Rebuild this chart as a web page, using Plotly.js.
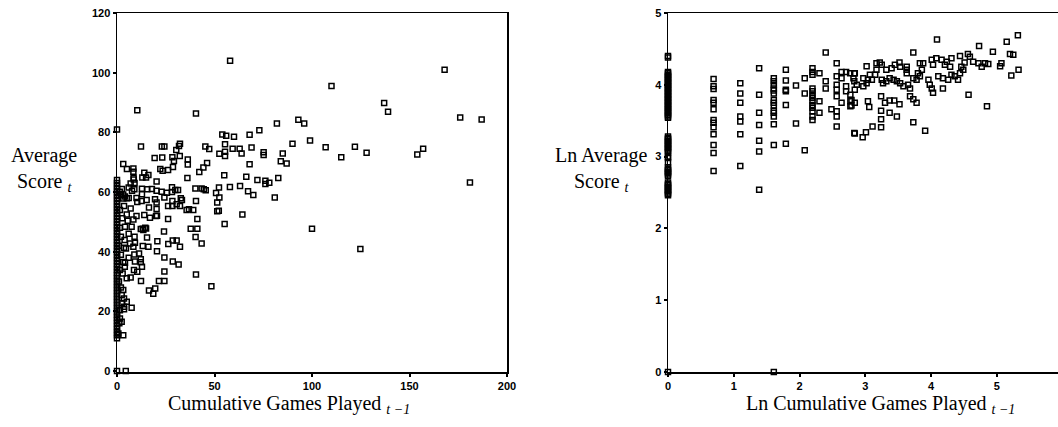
<!DOCTYPE html>
<html>
<head>
<meta charset="utf-8">
<script src="https://cdn.plot.ly/plotly-3.0.1.min.js"></script>
<style>html,body{margin:0;padding:0;background:#fff}#chart{width:1058px;height:427px}</style>
</head>
<body>
<div id="chart"></div>
<script>
// Left panel: cumulative games played (t-1) vs average score (t)
const leftGames = [
58,168,110,137,139,176,187,10.4,40.5,82,93,96,73,68,54,56,60,99,90,107,122,115,128,154,157,181,
12.3,23,24.3,32.3,31.8,30.4,45.3,47.3,55.4,55.4,52.5,55.4,59.3,62.9,63.9,69,75.2,75.2,85,84,87,68,
19.3,23.2,28.4,29.2,32.2,36.3,36.3,46.2,44.3,42.2,3.2,5.1,8.4,8.4,8.5,8.6,14,16.1,13,14.9,20.3,36.1,22.2,23.4,26.2,28.7,55,66.3,72,76.1,76.1,78.1,82.7,57.9,63.1,67.2,69.9,80.9,40.2,44.5,43.4,45.5,52.3,50.8,52.5,51.4,52.2,51.4,40.5,41.2,37.8,41.2,36.9,39.1,35.7,55.2,64.3,33.3,32.3,30.6,28.4,28.4,29.9,31.3,32.7,28.2,28.2,25.6,24.3,20.3,22.9,19.5,20.3,20.3,20,26.2,26.2,17.9,15.5,12.8,12.8,15.2,16.4,12.6,10.4,14,14.5,13.2,16.9,20.5,7,8.9,7.7,1.4,3.2,5,3.2,3.6,7,1.5,5,8.4,2.7,5.5,1.5,4.1,7.5,
24.1,40.3,43.4,20.7,26.3,28.6,30.6,32.3,20.5,24.3,28.6,31.6,24.3,21.5,24.3,40.5,48.4,100,124.8,16.4,18.6,19.6,12.3,3.9,6.7,9.2,8.4,4.6,3.6,13.5,14.9,12.2,15.4,13.2,16.1,11.3,8.9,9.2,12.2,12.8,8.7,10.4,12.2,3.2,4.1,2.9,1.5,5,7,3.2,2.4,3.6,5,2.7,3.6,7.5,3.6,1.5,1.5,2.4,1.2,3.2,0.7,
2,4,6,2.5,6,9,10,10,9,6,2,1,2,6,1,2,4,4.5
];
const leftScore = [
104,101,95.5,89.8,86.9,85,84.3,87.4,86.3,83,84.2,83,80.7,79.2,79.3,78.9,78.5,77.3,76.2,75,75.2,71.7,73.2,72.6,74.5,63.2,
75.3,75.3,75.3,76.2,75.4,74.1,75.3,74.4,76,73.5,72.8,72.1,74.5,74.5,72.9,74.9,73.3,72.4,72.9,70.3,69.6,69.3,
71.4,71.6,71.7,70.4,72.1,70.9,69.2,69.7,68.2,66.7,69.4,67.7,67.9,66.8,64.8,64.2,66.5,65.7,64.9,64.9,63.5,64.7,67.7,67.1,67.4,68.4,65.6,65.1,64,63.8,62.7,63.1,64.7,61.7,62,60.3,59,58.2,61.2,60.9,61.2,60.6,61.5,59.7,58.2,56.5,53.7,53.6,57,51,47.7,47.7,54.2,54,54,49.3,52.5,57.3,55.3,55.9,55.3,57,60.7,60.7,57.9,60,61.6,59.8,58.2,60.4,60.1,57.6,56.5,54.3,52,51,55.3,61,60.9,61.1,59.3,57.3,54.8,57,56.7,52.3,48,47.7,51.4,52.1,62.9,60.9,60.4,60.1,59.2,57.9,57.8,55.3,54.5,54,52.5,50.8,51.2,50.4,48,48.4,48.4,
46.8,44.9,42.8,43.5,42.6,43.8,43.8,41.7,40.2,38.1,36.7,35.7,33.4,30.2,30.2,32.4,28.4,47.7,40.9,27,25.9,27.7,30.2,43.9,42.8,43,41.7,41.1,41.3,47.3,47.8,47.6,44.8,41.9,41.7,39.4,39.1,36.7,37.5,35,33.9,33.3,36.5,36.6,36.3,32.7,33.9,31.1,31.4,27.2,25.5,24.3,23.2,22.7,21.6,21.2,20.7,20.4,17.6,16.5,16,12,12.6,
59,58.5,58,61,61.5,63,58,52,45,46,45,42,39,38,30,28,35,0
];
// players with no earlier games (x = 0 column)
const leftZeroGames = [0,0,0,0,0,0,0,0,0,0,0,0,0,0,0,0,0,0,0,0,0,0,0,0,0,0,0,0,0,0,0,0,0,0,0,0,0,0,0,0,0,0,0,0,0,0,0,0,0,0,0,0,0,0,0,0];
const leftZeroScore = [81,64,63,62,61,60,59,58,57,56,55,54,53,52,51,50,49,48,47,46,45,44,43,42,41,40,39,38,37,36,35,34,33,32,31,30,29,28,27,26,25,24,23,22,21,20,19,18,17,16,15,14,13,12,11,0];

// Right panel: ln cumulative games played (t-1) vs ln average score (t)
const lnGames = [
0.693,0.693,0.693,0.693,0.693,0.693,0.693,0.693,0.693,0.693,0.693,0.693,0.693,
1.099,1.099,1.099,1.099,1.099,1.099,1.099,
1.386,1.386,1.386,1.386,1.386,1.386,1.386,
1.609,1.609,1.609,1.609,1.609,1.609,1.609,1.609,1.609,1.609,1.609,1.609,1.609,1.609,1.609,
1.792,1.792,1.792,1.792,1.792,1.792,
1.946,1.946,
2.079,2.079,2.079,
2.197,2.197,2.197,2.197,2.197,2.197,2.197,2.197,2.197,2.197,2.197,2.197,2.197,
2.303,2.303,2.303,
2.398,2.398,2.398,
2.485,
2.565,2.565,2.565,2.565,2.565,2.565,2.565,2.565,
2.639,2.639,2.639,
2.708,2.708,2.708,
2.773,2.773,2.773,
2.833,2.833,2.833,
2.77,2.84,2.82,2.87,2.84,2.97,3.07,3.10,3.02,3.02,3.17,3.22,3.25,3.17,3.32,3.40,3.45,3.52,3.53,3.63,3.63,3.63,3.83,3.88,3.86,3.80,4.01,4.08,4.16,4.24,4.31,4.29,4.03,4.21,4.44,4.51,4.56,4.59,4.46,4.49,4.64,4.72,4.77,4.82,4.87,
3.25,3.27,3.32,3.37,3.43,3.48,3.53,3.58,3.65,3.68,3.73,3.78,3.83,3.96,3.98,4.01,4.11,4.18,4.26,4.31,4.36,4.41,4.44,
4.09,3.73,4.73,4.94,5.15,5.32,5.2,5.25,5.33,5.22,5.07,5.05,4.85,4.57,3.91,3.73,2.84,2.96,3.01,3.11,3.24,3.24,3.24,3.37,3.48,3.30,3.37,3.44,3.52,3.24,3.68,3.73,3.78,4.03,4.18,3.04,3.06,2.79,2.79,2.84,
2.97,3.04,3.15
];
const lnScore = [
4.08,3.98,3.94,3.79,3.75,3.66,3.51,3.47,3.41,3.31,3.16,3.05,2.80,
4.02,3.88,3.75,3.56,3.49,3.31,2.87,
4.23,3.86,3.61,3.44,3.22,3.07,2.54,
4.09,4.05,4.0,3.95,3.92,3.88,3.79,3.75,3.71,3.64,3.61,3.56,3.45,3.16,0,
4.21,4.06,3.93,3.91,3.72,3.18,
3.99,3.46,
4.09,3.88,3.09,
4.23,4.18,4.14,3.95,3.91,3.86,3.82,3.77,3.72,3.68,3.63,3.56,3.51,
4.16,3.77,3.61,
4.45,4.05,3.95,
3.66,
4.30,4.12,4.0,3.93,3.84,3.63,3.56,3.42,
4.18,4.09,3.75,
4.18,3.98,3.91,
3.86,3.77,3.70,
4.16,4.05,3.33,
4.16,4.16,4.09,4.0,3.93,4.09,4.14,4.07,4.02,4.26,4.30,4.31,4.28,4.21,4.21,4.23,4.28,4.31,4.25,4.25,4.16,4.21,4.30,4.30,4.21,4.16,4.35,4.37,4.35,4.32,4.37,4.25,4.28,4.28,4.40,4.31,4.43,4.39,4.25,4.21,4.32,4.30,4.25,4.30,4.29,
4.07,4.02,4.05,4.09,4.07,4.05,4.02,3.98,4.0,3.95,4.09,4.07,4.12,4.07,4.0,3.95,4.12,4.09,4.07,4.14,4.12,4.07,4.16,
4.63,4.45,4.54,4.46,4.6,4.69,4.43,4.42,4.21,4.13,4.3,4.26,3.70,3.86,3.36,3.48,3.32,3.27,3.34,3.42,3.41,3.52,3.64,3.61,3.56,3.75,3.78,3.78,3.73,3.84,3.84,3.80,3.75,3.89,3.95,3.77,3.69,3.79,3.71,3.75,
3.98,4.07,4.14
];
// ln games = 0 column
const lnZeroGames = [0,0,0,0,0,0,0,0,0,0,0,0,0,0,0,0,0,0,0,0,0,0,0,0,0,0,0,0,0,0,0,0,0,0,0,0,0,0,0,0,0,0,0,0,0,0,0,0,0,0,0,0,0,0,0,0,0,0,0,0,0,0,0,0,0,0,0,0];
const lnZeroScore = [4.40,4.38,
4.18,4.16,4.14,4.12,4.10,4.08,4.06,4.04,4.02,4.00,3.98,3.96,3.94,3.92,3.90,3.88,3.86,3.84,3.82,3.80,3.78,3.76,3.74,3.72,3.70,3.68,3.66,3.64,3.62,3.60,3.58,3.56,3.54,
3.28,3.26,3.24,3.22,3.20,3.18,3.16,3.14,3.12,3.10,3.08,3.06,
3.00,2.98,2.92,
2.85,2.83,2.81,2.79,2.77,2.75,2.73,
2.64,2.62,2.60,2.58,2.56,2.54,2.52,2.50,2.48,2.46,
0];

const leftTicks = [0, 20, 40, 60, 80, 100, 120];
const leftXTicks = [0, 50, 100, 150, 200];
const rightTicks = [0, 1, 2, 3, 4, 5];

const marker = {symbol: 'square-open', size: 5, color: '#000', line: {width: 1.5, color: '#000'}};
const tickFont = {family: 'Liberation Sans, Arial, sans-serif', size: 11, color: '#000', weight: 'bold'};
const titleFont = {family: 'Liberation Serif, Times New Roman, serif', size: 20, color: '#000'};

const axisBase = {
  showgrid: false, zeroline: false, showline: true, linecolor: '#000', linewidth: 1.5,
  ticks: 'outside', ticklen: 3, tickwidth: 2, tickcolor: '#000', tickfont: tickFont,
  fixedrange: true
};

function pts(x, y, xa, ya) {
  return {x: x, y: y, type: 'scatter', mode: 'markers', marker: marker, xaxis: xa, yaxis: ya, cliponaxis: false, hoverinfo: 'skip'};
}

const data = [
  pts(leftGames, leftScore, 'x', 'y'),
  pts(leftZeroGames, leftZeroScore, 'x', 'y'),
  pts(lnGames, lnScore, 'x2', 'y2'),
  pts(lnZeroGames, lnZeroScore, 'x2', 'y2')
];

const layout = {
  width: 1058, height: 427,
  margin: {l: 0, r: 0, t: 13, b: 55},
  paper_bgcolor: '#fff', plot_bgcolor: '#fff',
  showlegend: false,
  xaxis: Object.assign({}, axisBase, {domain: [117/1058, 507/1058], range: [0, 200], tickvals: leftXTicks, mirror: true, anchor: 'y'}),
  yaxis: Object.assign({}, axisBase, {domain: [0, 1], range: [-0.3, 120], tickvals: leftTicks, mirror: true, anchor: 'x', ticklabelstandoff: 0}),
  xaxis2: Object.assign({}, axisBase, {domain: [668/1058, 1], range: [0, 5.93], tickvals: rightTicks, mirror: true, anchor: 'y2'}),
  yaxis2: Object.assign({}, axisBase, {domain: [0, 1], range: [0, 5], tickvals: rightTicks, anchor: 'x2', ticklabelstandoff: 0}),
  annotations: [
    {xref: 'paper', yref: 'paper', x: 44/1058, y: (372-170)/359, xanchor: 'center', yanchor: 'middle', showarrow: false,
     text: 'Average<br>Score <i><sub>t</sub></i>', font: titleFont, align: 'center'},
    {xref: 'paper', yref: 'paper', x: 289/1058, y: (372-404)/359, xanchor: 'center', yanchor: 'middle', showarrow: false,
     text: 'Cumulative Games Played <i><sub>t −1</sub></i>', font: titleFont},
    {xref: 'paper', yref: 'paper', x: 601/1058, y: (372-170)/359, xanchor: 'center', yanchor: 'middle', showarrow: false,
     text: 'Ln Average<br>Score <i><sub>t</sub></i>', font: titleFont, align: 'center'},
    {xref: 'paper', yref: 'paper', x: 880/1058, y: (372-404)/359, xanchor: 'center', yanchor: 'middle', showarrow: false,
     text: 'Ln Cumulative Games Played <i><sub>t −1</sub></i>', font: titleFont}
  ]
};

Plotly.newPlot('chart', data, layout, {displayModeBar: false, staticPlot: true});
</script>
</body>
</html>
